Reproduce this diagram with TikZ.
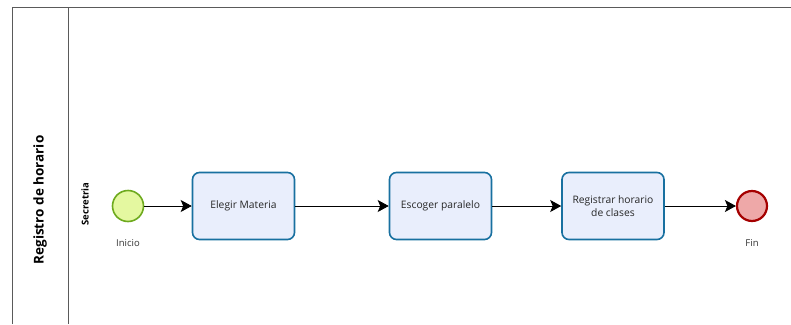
\documentclass[tikz,border=0pt]{standalone}
\usepackage{fontspec}
\setmainfont{Open Sans}
\usetikzlibrary{arrows.meta}
\definecolor{taskline}{RGB}{24,112,160}
\definecolor{taskfill}{RGB}{233,238,252}
\definecolor{startline}{RGB}{110,170,30}
\definecolor{startfill}{RGB}{228,248,160}
\definecolor{endline}{RGB}{165,0,0}
\definecolor{endfill}{RGB}{238,168,168}
\definecolor{poolline}{RGB}{90,90,90}
\begin{document}
\begin{tikzpicture}[x=1pt,y=-1pt,
    task/.style={draw=taskline,fill=taskfill,line width=1.6pt,rounded corners=7pt,
        minimum width=102pt,minimum height=67pt,align=center,text=black!85,
        font=\fontsize{10.3}{12.5}\selectfont},
    startevent/.style={circle,draw=startline,fill=startfill,line width=1.6pt,minimum size=31pt,inner sep=0pt},
    endevent/.style={circle,draw=endline,fill=endfill,line width=2.2pt,minimum size=30pt,inner sep=0pt},
    evlabel/.style={font=\fontsize{9.5}{11}\selectfont,text=black!80},
    flow/.style={-{Stealth[length=11pt,width=12pt,inset=2.5pt]},line width=0.9pt}]
    \useasboundingbox (0,0) rectangle (791,324);
    % pool and lane
    \draw[poolline,line width=1pt] (12,324) -- (12,7) -- (791,7);
    \draw[poolline,line width=1pt] (68,7) -- (68,324);
    \node[rotate=90,font=\bfseries\fontsize{13.5}{15}\selectfont] (pool) at (40,200) {Registro de horario};
    \node[rotate=90,font=\bfseries\fontsize{9.5}{11}\selectfont] (lane) at (85,204) {Secretria};
    % events and tasks
    \node[startevent] (inicio) at (128,206) {};
    \node[evlabel] (inicioLbl) at (128,243) {Inicio};
    \node[task] (elegir) at (243.5,206) {Elegir Materia};
    \node[task] (escoger) at (440.5,206) {Escoger paralelo};
    \node[task] (registrar) at (613,206) {Registrar horario\\de clases};
    \node[endevent] (fin) at (752,206) {};
    \node[evlabel] (finLbl) at (752,243) {Fin};
    % sequence flows
    \draw[flow] (inicio) -- (elegir);
    \draw[flow] (elegir) -- (escoger);
    \draw[flow] (escoger) -- (registrar);
    \draw[flow] (registrar) -- (fin);
\end{tikzpicture}
\end{document}
